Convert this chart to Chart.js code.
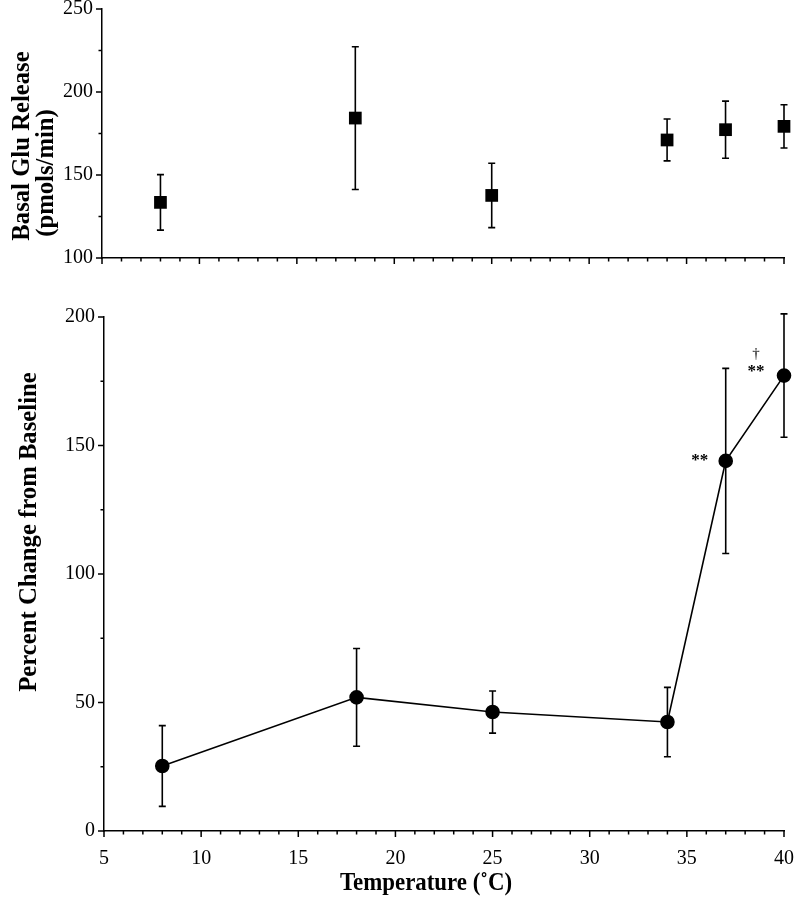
<!DOCTYPE html>
<html>
<head>
<meta charset="utf-8">
<script src="https://cdn.jsdelivr.net/npm/chart.js@4/dist/chart.umd.min.js"></script>
<style>
  html, body { margin: 0; padding: 0; background: #fff; }
  #wrap { position: relative; width: 799px; height: 900px; }
  #basal-chart { position: absolute; left: 0; top: 0; }
  #pct-chart { position: absolute; left: 0; top: 300px; }
</style>
</head>
<body>
<div id="wrap">
  <canvas id="basal-chart" width="799" height="300"></canvas>
  <canvas id="pct-chart" width="799" height="600"></canvas>
</div>
<script>
// temperatures (°C)
const temps = [8, 18, 25, 34, 37, 40];

// basal Glu release (pmols/min) and error
const basalMean = [133.5, 184.3, 137.7, 171.1, 177.3, 179.3];
const basalErr = [16.7, 43, 19.4, 12.6, 17.2, 13];

// percent change from baseline and error
const pctMean = [25.3, 52, 46.3, 42.4, 144, 177.2];
const pctErr = [15.7, 19, 8.2, 13.5, 36, 24];

// significance marks
const sigMarks = [
  { x: 37, label: ['**'], dx: -26 },
  { x: 40, label: ['\u2020', '**'], dx: -28 }
];

const xTicks = { min: 5, max: 40, step: 1, major: 5 };
const basalTicks = { min: 100, max: 250, step: 25, major: 50 };
const pctTicks = { min: 0, max: 200, step: 25, major: 50 };

const serif = "'Liberation Serif', 'Times New Roman', serif";

function toPoints(xs, ys) {
  return xs.map((x, i) => ({ x: x, y: ys[i] }));
}

// error bars drawn through the scales
const errorBars = {
  id: 'errorBars',
  afterDatasetsDraw(chart, args, opts) {
    const ctx = chart.ctx;
    const xs = chart.scales.x, ys = chart.scales.y;
    ctx.save();
    ctx.strokeStyle = '#000';
    ctx.lineWidth = 1.6;
    opts.means.forEach((m, i) => {
      const px = xs.getPixelForValue(opts.xs[i]);
      const top = ys.getPixelForValue(m + opts.errs[i]);
      const bot = ys.getPixelForValue(m - opts.errs[i]);
      ctx.beginPath();
      ctx.moveTo(px, top); ctx.lineTo(px, bot);
      ctx.moveTo(px - 3.5, top); ctx.lineTo(px + 3.5, top);
      ctx.moveTo(px - 3.5, bot); ctx.lineTo(px + 3.5, bot);
      ctx.stroke();
    });
    ctx.restore();
  }
};

// outward tick marks, long on major values
const tickMarks = {
  id: 'tickMarks',
  afterDraw(chart, args, opts) {
    const ctx = chart.ctx;
    const xs = chart.scales.x, ys = chart.scales.y;
    ctx.save();
    ctx.strokeStyle = '#000';
    ctx.lineWidth = 1.5;
    ctx.beginPath();
    xs.ticks.forEach(t => {
      const px = xs.getPixelForValue(t.value);
      const len = t.value % opts.xMajor === 0 ? 6 : 3.5;
      ctx.moveTo(px, xs.top); ctx.lineTo(px, xs.top + len);
    });
    ys.ticks.forEach(t => {
      const py = ys.getPixelForValue(t.value);
      const len = t.value % opts.yMajor === 0 ? 6 : 3.5;
      ctx.moveTo(ys.right, py); ctx.lineTo(ys.right - len, py);
    });
    ctx.stroke();
    ctx.restore();
  }
};

// significance labels next to points
const sigLabels = {
  id: 'sigLabels',
  afterDatasetsDraw(chart, args, opts) {
    if (!opts.marks) return;
    const ctx = chart.ctx;
    const xs = chart.scales.x, ys = chart.scales.y;
    ctx.save();
    ctx.fillStyle = '#000';
    ctx.textAlign = 'center';
    ctx.textBaseline = 'middle';
    opts.marks.forEach(mk => {
      const i = temps.indexOf(mk.x);
      const px = xs.getPixelForValue(mk.x) + mk.dx;
      let py = ys.getPixelForValue(pctMean[i]);
      if (mk.label.length > 1) py -= 4;
      for (let k = mk.label.length - 1; k >= 0; k--) {
        const s = mk.label[k];
        ctx.font = s === '**' ? "bold 17px " + serif : "15px " + serif;
        ctx.fillText(s, px, py);
        py -= 18;
      }
    });
    ctx.restore();
  }
};

// axis titles in a narrow bold serif (the original uses a condensed face)
const axisTitles = {
  id: 'axisTitles',
  afterDraw(chart, args, opts) {
    const ctx = chart.ctx;
    ctx.save();
    ctx.fillStyle = '#000';
    ctx.textAlign = 'center';
    ctx.textBaseline = 'middle';
    (opts.items || []).forEach(it => {
      ctx.save();
      ctx.font = 'bold ' + it.size + 'px ' + serif;
      ctx.translate(it.x, it.y);
      if (it.rotate) ctx.rotate(-Math.PI / 2);
      ctx.scale(it.squeeze, 1);
      ctx.fillText(it.text, 0, 0);
      ctx.restore();
    });
    ctx.restore();
  }
};

function xScale(showLabels, height) {
  return {
    type: 'linear',
    min: xTicks.min, max: xTicks.max,
    grid: { display: false, drawTicks: false },
    border: { display: true, color: '#000', width: 1.5 },
    ticks: {
      display: showLabels,
      stepSize: xTicks.step,
      autoSkip: false,
      maxRotation: 0,
      padding: 16,
      color: '#000',
      font: { family: serif, size: 20 },
      callback: v => (v % xTicks.major === 0 ? String(v) : '')
    },
    afterFit: s => { s.height = height; s.paddingLeft = 0; s.paddingRight = 0; }
  };
}

function yScale(t, width) {
  return {
    type: 'linear',
    min: t.min, max: t.max,
    grid: { display: false, drawTicks: false },
    border: { display: true, color: '#000', width: 1.5 },
    ticks: {
      stepSize: t.step,
      autoSkip: false,
      padding: 9,
      color: '#000',
      font: { family: serif, size: 20 },
      callback: v => (v % t.major === 0 ? String(v) : '')
    },
    afterFit: s => { s.width = width; s.paddingTop = 0; s.paddingBottom = 0; }
  };
}

new Chart(document.getElementById('basal-chart'), {
  type: 'scatter',
  data: {
    datasets: [{
      data: toPoints(temps, basalMean),
      pointStyle: 'rect',
      pointRadius: 9,
      pointHoverRadius: 9,
      backgroundColor: '#000',
      borderColor: '#000',
      borderWidth: 0,
      showLine: false,
      clip: false
    }]
  },
  options: {
    responsive: false,
    animation: false,
    layout: { padding: { top: 8, right: 15, left: 0, bottom: 0 } },
    scales: {
      x: xScale(false, 42),
      y: yScale(basalTicks, 102)
    },
    plugins: {
      legend: { display: false },
      tooltip: { enabled: false },
      errorBars: { xs: temps, means: basalMean, errs: basalErr },
      tickMarks: { xMajor: xTicks.major, yMajor: basalTicks.major },
      sigLabels: {},
      axisTitles: {
        items: [
          { text: 'Basal Glu Release', x: 22, y: 146, size: 26, squeeze: 0.95, rotate: true },
          { text: '(pmols/min)', x: 46, y: 173, size: 26, squeeze: 0.95, rotate: true }
        ]
      }
    }
  },
  plugins: [errorBars, tickMarks, sigLabels, axisTitles]
});

new Chart(document.getElementById('pct-chart'), {
  type: 'line',
  data: {
    datasets: [{
      data: toPoints(temps, pctMean),
      pointStyle: 'circle',
      pointRadius: 6.5,
      pointHoverRadius: 6.5,
      backgroundColor: '#000',
      borderColor: '#000',
      borderWidth: 1.6,
      tension: 0,
      fill: false,
      clip: false
    }]
  },
  options: {
    responsive: false,
    animation: false,
    layout: { padding: { top: 17, right: 15, left: 0, bottom: 0 } },
    scales: {
      x: xScale(true, 69),
      y: yScale(pctTicks, 104)
    },
    plugins: {
      legend: { display: false },
      tooltip: { enabled: false },
      errorBars: { xs: temps, means: pctMean, errs: pctErr },
      tickMarks: { xMajor: xTicks.major, yMajor: pctTicks.major },
      sigLabels: { marks: sigMarks },
      axisTitles: {
        items: [
          { text: 'Percent Change from Baseline', x: 29, y: 232, size: 26, squeeze: 0.95, rotate: true },
          { text: 'Temperature (\u02DAC)', x: 426, y: 583, size: 26, squeeze: 0.88, rotate: false }
        ]
      }
    }
  },
  plugins: [errorBars, tickMarks, sigLabels, axisTitles]
});
</script>
</body>
</html>
